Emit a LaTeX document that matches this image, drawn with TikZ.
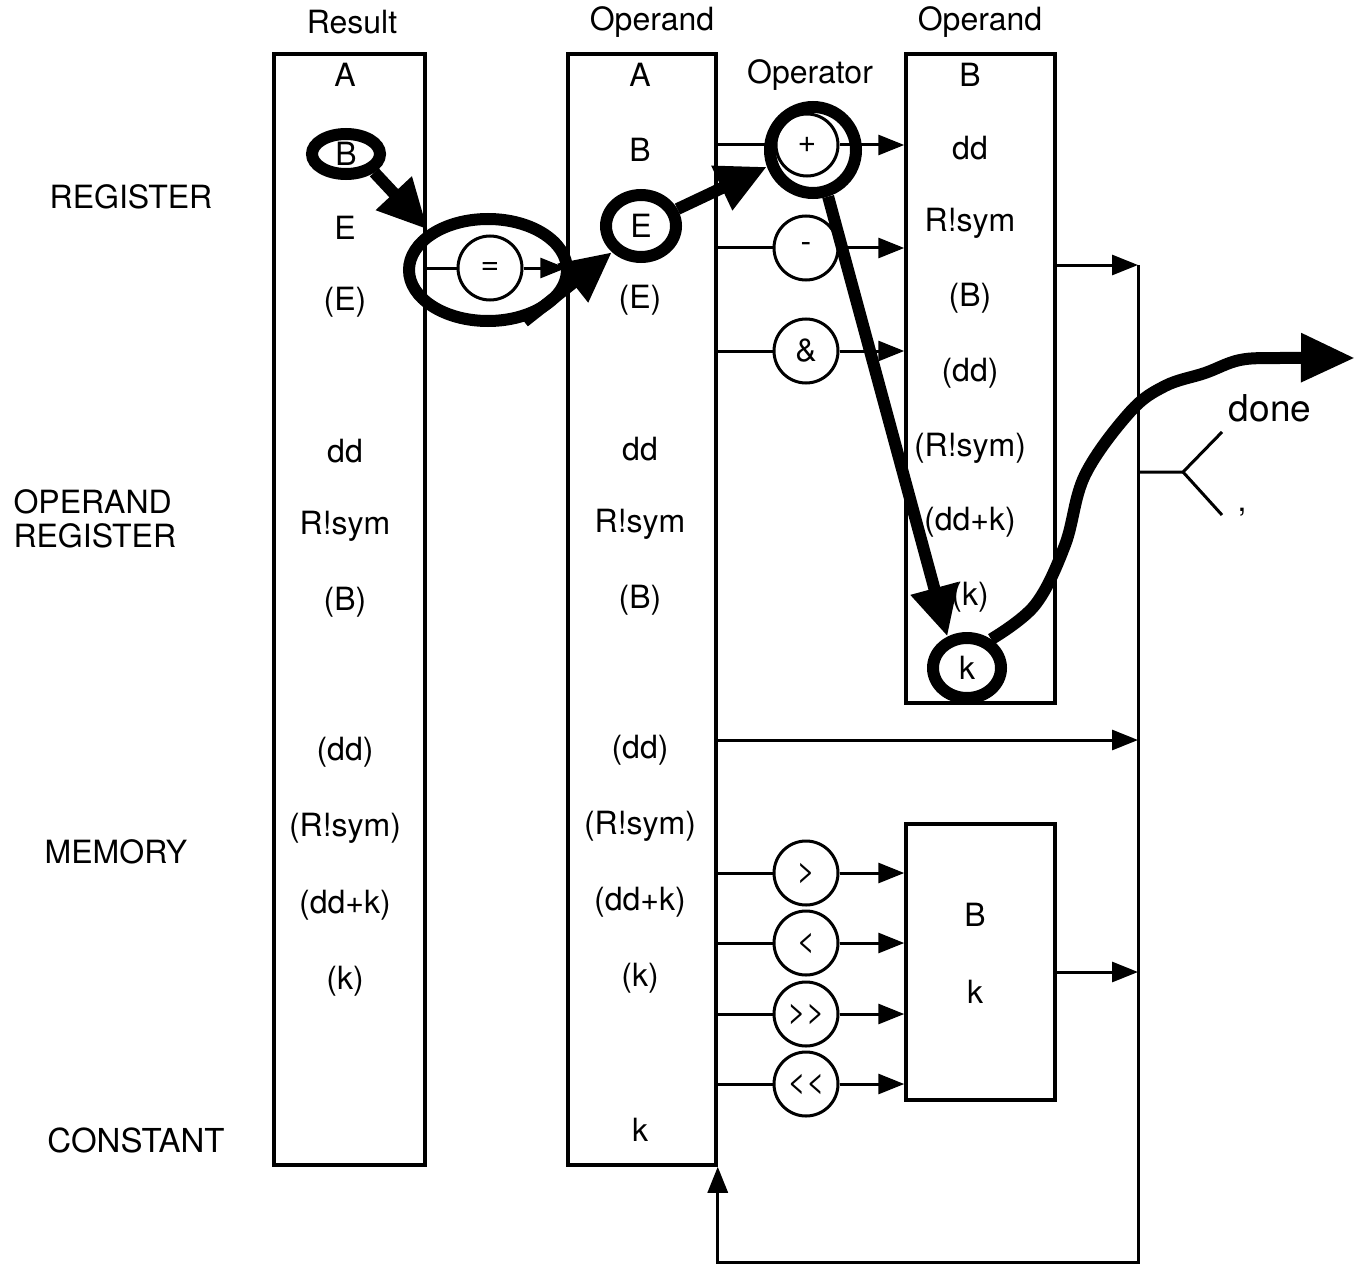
\documentclass[tikz,border=0pt]{standalone}
\usepackage{fontspec}
\setmainfont{TeX Gyre Heros}
\usetikzlibrary{arrows.meta,shapes.geometric}

\begin{document}
\begin{tikzpicture}[x=1pt,y=-1pt,
  every node/.style={font=\fontsize{32}{38}\selectfont},
  regcol/.style={draw,line width=3.5pt,inner sep=0pt},
  op/.style={draw,circle,line width=3pt,minimum size=64pt,inner sep=0pt},
  ring/.style={draw,ellipse,line width=12pt,inner sep=0pt},
  wire/.style={line width=3pt},
  feed/.style={wire,-{Triangle[length=26pt,width=20pt]}},
  hot/.style={line width=12pt,-{Triangle[length=50pt,width=46pt]}}]
  \useasboundingbox (0,0) rectangle (1364,1265);
  % register columns
  \node[regcol,minimum width=151pt,minimum height=1111pt] (res) at (349.5,609.5) {};
  \node[regcol,minimum width=148pt,minimum height=1111pt] (opa) at (642,609.5) {};
  \node[regcol,minimum width=149pt,minimum height=649pt] (opb) at (980.5,378.5) {};
  \node[regcol,minimum width=149pt,minimum height=276pt] (cmp) at (980.5,962) {};
  \node (restitle) at (352,22) {Result};
  \node (opatitle) at (652,22) {Operand};
  \node (opbtitle) at (980,22) {Operand};
  \node (optitle) at (810,75) {Operator};
  % modes
  \node (mreg) at (131,197) {REGISTER};
  \node[align=left,anchor=west] (mopr) at (10,519) {OPERAND\\[-4pt]REGISTER};
  \node (mmem) at (116,852) {MEMORY};
  \node[font=\fontsize{33}{38}\selectfont] (mcon) at (136,1140) {CONSTANT};
  % result
  \node (resA) at (345,75) {A};
  \node[ring,minimum width=68pt,minimum height=40pt] (resB) at (346,154) {B};
  \node (resE) at (345,228) {E};
  \node (resiE) at (345,302) {(E)};
  \node (resdd) at (345,451) {dd};
  \node (resR) at (345,526) {R!sym};
  \node (resiB) at (345,602) {(B)};
  \node (residd) at (345,752) {(dd)};
  \node (resiR) at (345,828) {(R!sym)};
  \node (residk) at (345,905) {(dd+k)};
  \node (resik) at (345,981) {(k)};
  % first operand
  \node (opaA) at (640,75) {A};
  \node (opaB) at (640,150) {B};
  \node[ring,minimum width=70pt,minimum height=62pt] (opaE) at (641,226) {E};
  \node (opaiE) at (640,300) {(E)};
  \node (opadd) at (640,449) {dd};
  \node (opaR) at (640,524) {R!sym};
  \node (opaiB) at (640,600) {(B)};
  \node (opaidd) at (640,750) {(dd)};
  \node (opaiR) at (640,826) {(R!sym)};
  \node (opaidk) at (640,902) {(dd+k)};
  \node (opaik) at (640,978) {(k)};
  \node (opak) at (640,1130) {k};
  % second operand
  \node (opbB) at (970,75) {B};
  \node (opbdd) at (970,148) {dd};
  \node (opbR) at (970,223) {R!sym};
  \node (opbiB) at (970,298) {(B)};
  \node (opbidd) at (970,373) {(dd)};
  \node (opbiR) at (970,448) {(R!sym)};
  \node (opbidk) at (970,522) {(dd+k)};
  \node (opbik) at (970,597) {(k)};
  \node[ring,minimum width=68pt,minimum height=60pt] (opbk) at (967,668) {k};
  \node (cmpB) at (975,915) {B};
  \node (cmpk) at (975,992) {k};
  % operators
  \node[ring,minimum width=158pt,minimum height=102pt] (eqring) at (488,270) {};
  \node[op] (eq) at (490,268) {=};
  \node[ring,minimum size=86pt] (plusring) at (813,150) {};
  \node[op,minimum size=62pt] (plus) at (807,145) {+};
  \node[op] (minus) at (806,248) {-};
  \node[op] (amp) at (806,351) {\&};
  \node[op] (gt) at (806,873) {>};
  \node[op] (lt) at (806,943) {<};
  \node[op] (shr) at (806,1014) {>\kern0pt>};
  \node[op] (shl) at (806,1084) {<\kern0pt<};
  \draw[wire] (res.east |- eq) -- (eq);
  \draw[feed] (eq) -- (opa.west |- eq);
  \draw[wire] (opa.east |- plus) -- (plus);
  \draw[feed] (plus) -- (opb.west |- plus);
  \draw[wire] (opa.east |- minus) -- (minus);
  \draw[feed] (minus) -- (opb.west |- minus);
  \draw[wire] (opa.east |- amp) -- (amp);
  \draw[feed] (amp) -- (opb.west |- amp);
  \draw[wire] (opa.east |- gt) -- (gt);
  \draw[feed] (gt) -- (cmp.west |- gt);
  \draw[wire] (opa.east |- lt) -- (lt);
  \draw[feed] (lt) -- (cmp.west |- lt);
  \draw[wire] (opa.east |- shr) -- (shr);
  \draw[feed] (shr) -- (cmp.west |- shr);
  \draw[wire] (opa.east |- shl) -- (shl);
  \draw[feed] (shl) -- (cmp.west |- shl);
  % result bus
  \coordinate (bustop) at (1138,265);
  \coordinate (busbot) at (1138,1262);
  \coordinate (tap) at (1138,740);
  \coordinate (fork) at (1183,472);
  \coordinate (forkup) at (1222,432);
  \coordinate (forkdn) at (1222,515);
  \draw[feed] (bustop) -- (busbot) -- (opa.south east |- busbot) -- (opa.south east);
  \draw[feed] (opb.east |- bustop) -- (bustop);
  \draw[feed] (opa.east |- tap) -- (tap);
  \draw[feed] ([yshift=-10pt]cmp.east) -- ([yshift=-10pt]cmp.east -| bustop);
  \draw[wire] (bustop |- fork) -- (fork) -- (forkup);
  \draw[wire] (fork) -- (forkdn);
  \node[font=\fontsize{37}{44}\selectfont] (done) at (1270,408) {done};
  \node (comma) at (1242,512) {,};
  % traced path
  \draw[hot] (resB.south east) -- (eqring.north west);
  \draw[hot] (eqring.-55) -- (opaE.south west);
  \draw[hot] (opaE.25) -- (plusring.200);
  \draw[hot] (plusring.-72) -- (opbk.122);
  \draw[hot,-{Triangle[length=54pt,width=46pt]}] plot[smooth,tension=0.6] coordinates {(opbk.50) (1035,605) (1065,545) (1085,475) (1130,412) (1165,386) (1205,373) (1240,360) (1280,358) (1355,358)};
\end{tikzpicture}
\end{document}
